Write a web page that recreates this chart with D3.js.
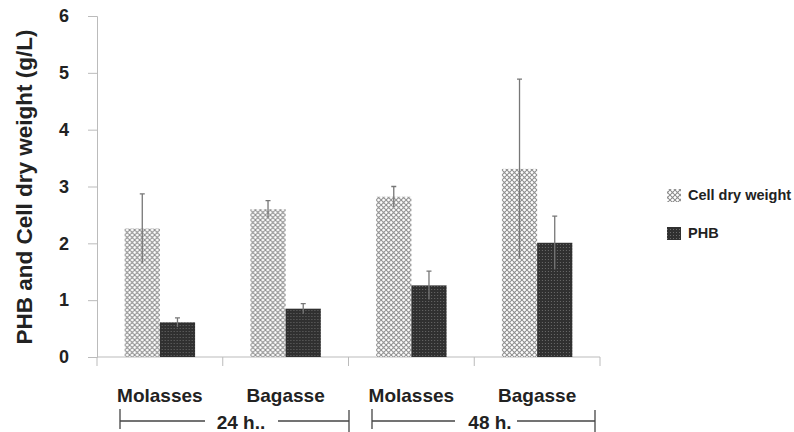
<!DOCTYPE html>
<html><head><meta charset="utf-8">
<script src="https://cdn.jsdelivr.net/npm/d3@7"></script>
<style>body{margin:0;background:#fff}svg{display:block}text{font-family:"Liberation Sans",Arial,sans-serif;font-weight:bold;fill:#222}</style>
</head><body>
<script>
const categories = ["Molasses","Bagasse","Molasses","Bagasse"];
const timeGroups = ["24 h..","48 h."];
const seriesNames = ["Cell dry weight","PHB"];
const cellDryWeight = [2.26, 2.60, 2.82, 3.31];
const cellDryWeightErr = [0.61, 0.15, 0.18, 1.58];
const phb = [0.61, 0.85, 1.26, 2.01];
const phbErr = [0.08, 0.09, 0.25, 0.47];
const yTicks = [0,1,2,3,4,5,6];

const W = 794, H = 432;
const svg = d3.select("body").append("svg").attr("width", W).attr("height", H);
const defs = svg.append("defs");
// Cell dry weight pattern: light diagonal lattice of rings
const ps = 5;
const p1 = defs.append("pattern").attr("id","pCDW").attr("patternUnits","userSpaceOnUse").attr("width",ps).attr("height",ps);
p1.append("rect").attr("width",ps).attr("height",ps).attr("fill","#fff");
p1.append("path").attr("d",`M0,0L${ps},${ps}M${ps},0L0,${ps}`).attr("stroke","#8e8e8e").attr("stroke-width",1.2);
[[ps/2,0],[ps/2,ps],[0,ps/2],[ps,ps/2]].forEach(([cx,cy])=>
  p1.append("circle").attr("cx",cx).attr("cy",cy).attr("r",1).attr("fill","#fff"));
// PHB pattern: dark fine checker
const p2 = defs.append("pattern").attr("id","pPHB").attr("patternUnits","userSpaceOnUse").attr("width",3).attr("height",3);
p2.append("rect").attr("width",3).attr("height",3).attr("fill","#303030");
p2.append("rect").attr("x",1).attr("y",1).attr("width",1).attr("height",1).attr("fill","#6a6a6a");

const x0 = 97, x1 = 600, yTop = 16, yBot = 357;
const x = d3.scaleBand().domain(d3.range(categories.length)).range([x0, x1]).paddingInner(0.44).paddingOuter(0.22);
const xs = d3.scaleBand().domain([0,1]).range([0, x.bandwidth()]);
const y = d3.scaleLinear().domain([0,6]).range([yBot, yTop]);

// axes
const yAxis = svg.append("g").attr("transform",`translate(${x0},0)`)
  .call(d3.axisLeft(y).tickValues(yTicks).tickSize(9).tickPadding(19).tickFormat(d3.format("d")));
yAxis.select(".domain").attr("stroke","#bbb");
yAxis.selectAll(".tick line").attr("stroke","#bbb");
yAxis.selectAll(".tick text").attr("font-size",18).attr("fill","#222").style("font-family","Liberation Sans, Arial, sans-serif").style("font-weight","bold");

const band = d3.scaleBand().domain(d3.range(categories.length)).range([x0, x1]);
svg.append("line").attr("x1",x0).attr("x2",x1).attr("y1",yBot).attr("y2",yBot).attr("stroke","#bbb");
svg.selectAll(".xt").data(d3.range(categories.length+1)).join("line")
  .attr("x1",d=> x0 + d*band.bandwidth()).attr("x2",d=> x0 + d*band.bandwidth())
  .attr("y1",yBot).attr("y2",yBot+9).attr("stroke","#bbb");

svg.selectAll(".cat").data(categories).join("text")
  .attr("x",(d,i)=> band(i)+band.bandwidth()/2).attr("y",402).attr("text-anchor","middle")
  .attr("font-size",19).text(d=>d);

const data = categories.map((c,i)=>({i, vals:[{s:0,v:cellDryWeight[i],e:cellDryWeightErr[i]},{s:1,v:phb[i],e:phbErr[i]}]}));
const g = svg.selectAll(".grp").data(data).join("g").attr("transform",d=>`translate(${x(d.i)},0)`);
g.selectAll("rect").data(d=>d.vals).join("rect")
  .attr("x",d=>xs(d.s)).attr("width",xs.bandwidth())
  .attr("y",d=>y(d.v)).attr("height",d=>y(0)-y(d.v))
  .attr("fill",d=> d.s===0 ? "url(#pCDW)" : "url(#pPHB)");
g.selectAll(".err").data(d=>d.vals).join("path")
  .attr("d",d=>{const cx = xs(d.s)+xs.bandwidth()/2; const t=y(d.v+d.e), b=y(d.v-d.e);
    return `M${cx},${b}V${t}M${cx-2.5},${t}H${cx+2.5}`;})
  .attr("stroke","#777").attr("stroke-width",1.3).attr("fill","none");

// time group brackets
const brackets = [{l:120, r:349, tx:241, gapL:205, gapR:278}, {l:372, r:595, tx:490, gapL:455, gapR:517}];
brackets.forEach((b,k)=>{
  const gb = svg.append("g").attr("stroke","#444").attr("stroke-width",1.3);
  gb.append("line").attr("x1",b.l).attr("x2",b.l).attr("y1",409).attr("y2",429);
  gb.append("line").attr("x1",b.r).attr("x2",b.r).attr("y1",410).attr("y2",432);
  gb.append("line").attr("x1",b.l).attr("x2",b.gapL).attr("y1",421).attr("y2",421);
  gb.append("line").attr("x1",b.gapR).attr("x2",b.r).attr("y1",421).attr("y2",421);
  svg.append("text").attr("x",b.tx).attr("y",429).attr("text-anchor","middle").attr("font-size",19).text(timeGroups[k]);
});

// y label
svg.append("text").attr("transform","translate(32,187) rotate(-90)").attr("text-anchor","middle")
  .attr("font-size",22.5).text("PHB and Cell dry weight (g/L)");

// legend
const leg = svg.append("g");
seriesNames.forEach((n,k)=>{
  const yy = k===0 ? 189 : 227;
  leg.append("rect").attr("x",667).attr("y",yy).attr("width",14).attr("height",13).attr("fill",k===0?"url(#pCDW)":"url(#pPHB)");
  leg.append("text").attr("x",688).attr("y",yy+11).attr("font-size",14.5).text(n);
});
</script>
</body></html>
